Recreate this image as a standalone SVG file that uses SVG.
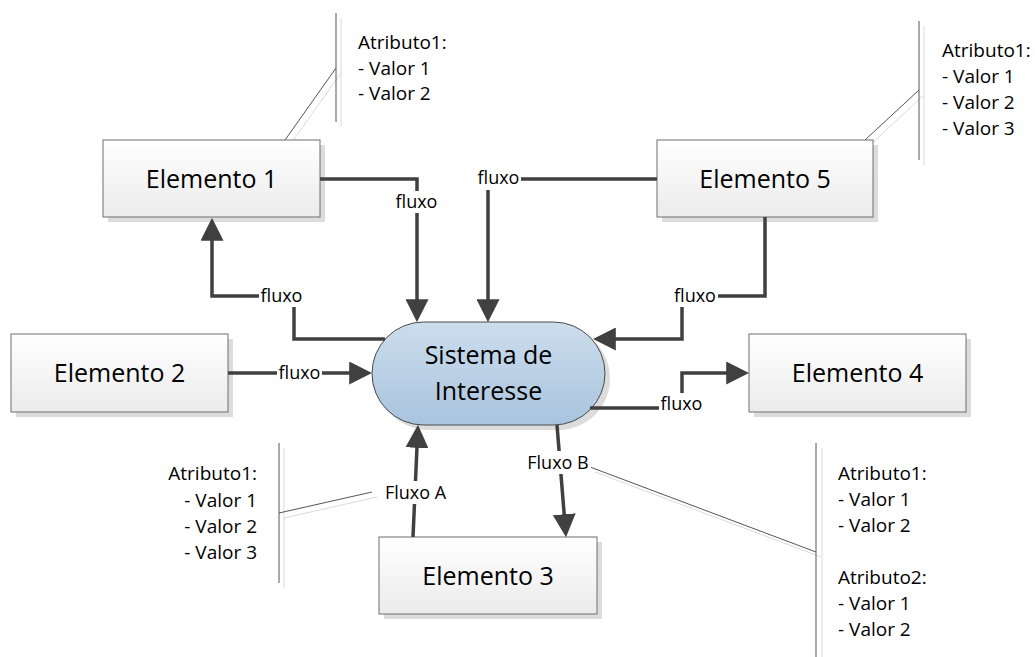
<svg xmlns="http://www.w3.org/2000/svg" width="1035" height="657" viewBox="0 0 1035 657">
<defs>
<linearGradient id="boxGrad" x1="0" y1="0" x2="0" y2="1"><stop offset="0" stop-color="#ffffff"/><stop offset="1" stop-color="#ebebeb"/></linearGradient>
<linearGradient id="sysGrad" x1="0" y1="0" x2="0" y2="1"><stop offset="0" stop-color="#ccdded"/><stop offset="1" stop-color="#a9c4de"/></linearGradient>
<marker id="arrow" markerUnits="userSpaceOnUse" markerWidth="23" markerHeight="23" viewBox="0 0 22 22" refX="18" refY="11" orient="auto"><path d="M0,0 L22,11 L0,22 Z" fill="#404040"/></marker>
</defs>
<style>
.box{fill:url(#boxGrad);stroke:#6e6e6e;stroke-width:1}
.shadow{fill:#dcdcdc}
.big{font-family:"Open Sans","Liberation Sans",sans-serif;font-size:25px;text-anchor:middle;fill:#000}
.lbl{font-family:"Open Sans","Liberation Sans",sans-serif;font-size:18px;text-anchor:middle;fill:#000}
.ann{font-family:"Open Sans","Liberation Sans",sans-serif;font-size:19px;fill:#000}
.conn{fill:none;stroke:#404040;stroke-width:3.5}
.lead{fill:none;stroke:#555555;stroke-width:1}
.leadsh{fill:none;stroke:#dadada;stroke-width:1}
.bg{fill:#ffffff}
</style>
<rect width="1035" height="657" fill="#ffffff"/>

<g id="annotations">
  <g id="ann1">
    <path class="leadsh" d="M341,18 V127 M290,145 L341,73"/>
    <path class="lead" d="M336,13 V122 M285,140 L336,68"/>
    <text class="ann" x="358" y="49">Atributo1:</text>
    <text class="ann" x="358" y="74.5">- Valor 1</text>
    <text class="ann" x="358" y="100">- Valor 2</text>
  </g>
  <g id="ann5">
    <path class="leadsh" d="M924,26 V165 M870,145 L924,95"/>
    <path class="lead" d="M919,21 V160 M865,140 L919,90"/>
    <text class="ann" x="942" y="57">Atributo1:</text>
    <text class="ann" x="942" y="83">- Valor 1</text>
    <text class="ann" x="942" y="109">- Valor 2</text>
    <text class="ann" x="942" y="135">- Valor 3</text>
  </g>
  <g id="ann3">
    <path class="leadsh" d="M284,448 V588 M284,518 L377,497"/>
    <path class="lead" d="M279,443 V583 M279,513 L372,492"/>
    <text class="ann" x="257" y="480" text-anchor="end">Atributo1:</text>
    <text class="ann" x="257" y="507" text-anchor="end">- Valor 1</text>
    <text class="ann" x="257" y="533" text-anchor="end">- Valor 2</text>
    <text class="ann" x="257" y="559" text-anchor="end">- Valor 3</text>
  </g>
  <g id="annB">
    <path class="leadsh" d="M822,448 V660 M595,472 L821,557"/>
    <path class="lead" d="M816,443 V660 M590,467 L816,552"/>
    <text class="ann" x="838" y="480">Atributo1:</text>
    <text class="ann" x="838" y="506">- Valor 1</text>
    <text class="ann" x="838" y="532">- Valor 2</text>
    <text class="ann" x="838" y="584">Atributo2:</text>
    <text class="ann" x="838" y="610">- Valor 1</text>
    <text class="ann" x="838" y="636">- Valor 2</text>
  </g>
</g>

<g id="sistema">
  <rect class="shadow" x="377" y="327" width="233" height="103" rx="51.5" ry="51.5"/>
  <rect x="372" y="322" width="233" height="103" rx="51.5" ry="51.5" fill="url(#sysGrad)" stroke="#4a4a4a" stroke-width="1"/>
  <text class="big" x="488.5" y="364">Sistema de</text>
  <text class="big" x="488.5" y="400">Interesse</text>
</g>

<g id="elemento1">
  <rect class="shadow" x="108" y="145" width="217" height="77"/>
  <rect class="box" x="103" y="140" width="217" height="77"/>
  <text class="big" x="211.5" y="188">Elemento 1</text>
</g>
<g id="elemento5">
  <rect class="shadow" x="662" y="145" width="216" height="77"/>
  <rect class="box" x="657" y="140" width="216" height="77"/>
  <text class="big" x="765" y="188">Elemento 5</text>
</g>
<g id="elemento2">
  <rect class="shadow" x="16" y="339" width="217" height="78"/>
  <rect class="box" x="11" y="334" width="217" height="78"/>
  <text class="big" x="119.5" y="382">Elemento 2</text>
</g>
<g id="elemento4">
  <rect class="shadow" x="754" y="339" width="217" height="78"/>
  <rect class="box" x="749" y="334" width="217" height="78"/>
  <text class="big" x="857.5" y="382">Elemento 4</text>
</g>
<g id="elemento3">
  <rect class="shadow" x="384" y="542" width="218" height="77"/>
  <rect class="box" x="379" y="537" width="218" height="77"/>
  <text class="big" x="488" y="585">Elemento 3</text>
</g>

<g id="connectors">
  <path class="conn" d="M320,179 H417 V318" marker-end="url(#arrow)"/>
  <path class="conn" d="M657,179 H488 V318" marker-end="url(#arrow)"/>
  <path class="conn" d="M385,339 H294 V296 H212 V222" marker-end="url(#arrow)"/>
  <path class="conn" d="M228,373 H368" marker-end="url(#arrow)"/>
  <path class="conn" d="M765,217 V296 H682 V339 H597" marker-end="url(#arrow)"/>
  <path class="conn" d="M590,408 H682 V373 H745" marker-end="url(#arrow)"/>
  <path class="conn" d="M413,537 L417.8,429" marker-end="url(#arrow)"/>
  <path class="conn" d="M557,425 L565.7,533" marker-end="url(#arrow)"/>

  <rect class="bg" x="394" y="191" width="45" height="22"/>
  <text class="lbl" x="416.5" y="208">fluxo</text>
  <rect class="bg" x="476" y="168" width="45" height="22"/>
  <text class="lbl" x="498.5" y="184">fluxo</text>
  <rect class="bg" x="259" y="285" width="45" height="22"/>
  <text class="lbl" x="281.5" y="302">fluxo</text>
  <rect class="bg" x="277" y="362" width="45" height="22"/>
  <text class="lbl" x="299.5" y="379">fluxo</text>
  <rect class="bg" x="672" y="285" width="46" height="22"/>
  <text class="lbl" x="695" y="302">fluxo</text>
  <rect class="bg" x="659" y="393" width="45" height="22"/>
  <text class="lbl" x="681.5" y="410">fluxo</text>
  <rect class="bg" x="382" y="481" width="67" height="23"/>
  <text class="lbl" x="415.5" y="499">Fluxo A</text>
  <rect class="bg" x="525" y="451" width="66" height="23"/>
  <text class="lbl" x="558" y="469">Fluxo B</text>
</g>
</svg>
